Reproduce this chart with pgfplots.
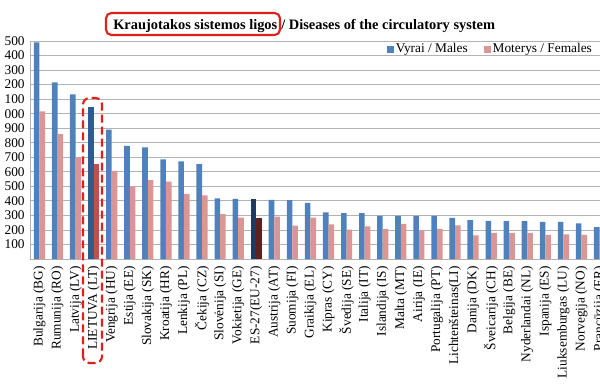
\documentclass[border=0pt]{standalone}
\usepackage{fontspec}
\setmainfont{Liberation Serif}
\usepackage{pgfplots}
\pgfplotsset{compat=1.18}
\definecolor{mblue}{HTML}{4F81BD}
\definecolor{fpink}{HTML}{D99694}
\definecolor{ltblue}{HTML}{2E5C8F}
\definecolor{ltred}{HTML}{C0504D}
\definecolor{eublue}{HTML}{1F3A60}
\definecolor{eured}{HTML}{5E2020}
\definecolor{gridgray}{HTML}{B3B3B3}
\definecolor{boxred}{HTML}{E0201A}
\begin{document}
\begin{tikzpicture}
\path[use as bounding box] (0,0) rectangle (450pt,292.5pt);
\clip (0,0) rectangle (450pt,292.5pt);
\begin{axis}[
  at={(22.8pt,98.25pt)}, anchor=south west,
  scale only axis, width=433.65pt, height=163.5pt,
  xmin=-0.5, xmax=31.5, ymin=0, ymax=1500,
  axis lines=left, axis line style={-, gridgray, line width=0.6pt},
  ytick={100,200,...,1500},
  yticklabels={100,200,300,400,500,600,700,800,900,000,100,200,300,400,500},
  ymajorgrids, grid style={gridgray, line width=0.6pt},
  ytick style={draw=none},
  xtick={0,...,31},
  xticklabels={Bulgarija (BG),Rumunija (RO),Latvija (LV),LIETUVA (LT),Vengrija (HU),Estija (EE),Slovakija (SK),Kroatija (HR),Lenkija (PL),Čekija (CZ),Slovėnija (SI),Vokietija (GE),ES-27(EU-27),Austrija (AT),Suomija (FI),Graikija (EL),Kipras (CY),Švedija (SE),Italija (IT),Islandija (IS),Malta (MT),Airija (IE),Portugalija (PT),Lichtenšteinas(LI),Danija (DK),Šveicarija (CH),Belgija (BE),Nyderlandai (NL),Ispanija (ES),Liuksemburgas (LU),Norvegija (NO),Prancūzija (FR)},
  xtick style={draw=none},
  minor xtick={-0.5,0.5,...,31.5},
  minor x tick style={gridgray, line width=0.6pt},
  tick align=outside, minor tick length=3pt,
  xticklabel style={rotate=90, anchor=east, font=\fontsize{10}{12}\selectfont, inner sep=1pt},
  yticklabel style={font=\fontsize{10}{12}\selectfont, xshift=3.5pt},
  /pgf/number format/assume math mode=true,
  legend style={at={(0.6167,0.963)}, anchor=west, draw=none, fill=none,
    font=\fontsize{10}{12}\selectfont, inner sep=0pt,
    nodes={inner xsep=1.2pt, inner ysep=0pt},
    /tikz/every even column/.append style={column sep=11pt}},
  legend columns=2, legend cell align=left,
  legend image code/.code={\fill[#1] (0pt,-2.6pt) rectangle (5.3pt,2.6pt);},
]
\addplot[ybar, bar width=4.2pt, bar shift=-2.1pt, fill=mblue, draw=none] coordinates {
(0,1490) (1,1216) (2,1133) (4,890) (5,779) (6,768) (7,685) (8,671) (9,653)
(10,418) (11,414) (13,407) (14,405) (15,386) (16,320) (17,315) (18,315)
(19,297) (20,297) (21,297) (22,297) (23,283) (24,267) (25,262) (26,260)
(27,260) (28,255) (29,255) (30,246) (31,219)};
\addlegendentry{Vyrai / Males}
\addplot[ybar, bar width=4.2pt, bar shift=2.1pt, fill=fpink, draw=none] coordinates {
(0,1016) (1,860) (2,699) (4,607) (5,497) (6,543) (7,533) (8,446) (9,437)
(10,308) (11,285) (13,292) (14,230) (15,285) (16,239) (17,202) (18,225)
(19,207) (20,241) (21,198) (22,207) (23,232) (24,163) (25,179) (26,179)
(27,179) (28,166) (29,170) (30,166) (31,131)};
\addlegendentry{Moterys / Females}
\addplot[ybar, bar width=4.2pt, bar shift=-2.1pt, fill=ltblue, draw=none, forget plot] coordinates {(3,1046)};
\addplot[ybar, bar width=4.2pt, bar shift=2.1pt, fill=ltred, draw=none, forget plot] coordinates {(3,655)};
\addplot[ybar, bar width=4.2pt, bar shift=-2.1pt, fill=eublue, draw=none, forget plot] coordinates {(12,411)};
\addplot[ybar, bar width=4.2pt, bar shift=2.1pt, fill=eured, draw=none, forget plot] coordinates {(12,285)};
\end{axis}
\node[anchor=base west, inner sep=0pt, font=\fontsize{10.8}{13}\selectfont\bfseries] (A) at (84.75pt,270.5pt) {Kraujotakos sistemos ligos};
\node[anchor=base west, inner sep=0pt, font=\fontsize{10.8}{13}\selectfont\bfseries] at (A.base east) {\ / Diseases of the circulatory system};
\draw[boxred, line width=1.6pt, rounded corners=4pt] (79.5pt,266.25pt) rectangle (210pt,282.75pt);
\draw[boxred, line width=1.6pt, dash pattern=on 6pt off 3pt, rounded corners=5pt] (62.25pt,20.25pt) rectangle (76.5pt,219pt);
\end{tikzpicture}
\end{document}
